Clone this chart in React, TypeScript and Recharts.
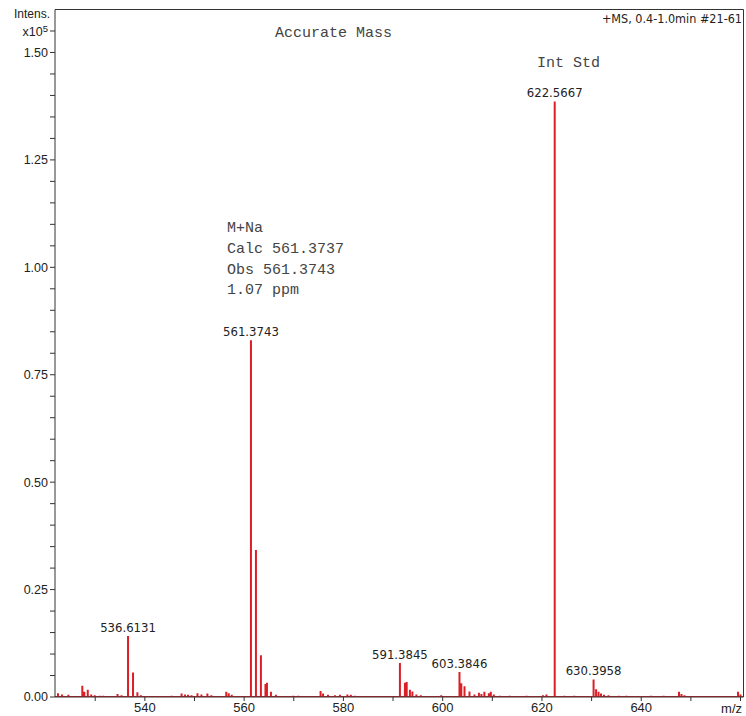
import React from 'react';
import { ComposedChart, Line, Scatter, XAxis, YAxis, ReferenceLine } from 'recharts';

// stick spectrum, m/z and intensity (x10^5)
const peakMz = [
  522.5, 523.3, 524.6, 527.4, 527.8, 528.5, 529.2, 529.9, 530.9, 531.6,
  534.5, 535.3, 536.6131, 537.62, 538.5, 539.2, 545.4, 547.4, 548.1, 548.7,
  549.4, 550.6, 551.4, 552.6, 553.4, 556.4, 556.9, 557.5, 561.3743, 562.38,
  563.38, 564.3, 564.6, 565.4, 566.4, 569.9, 570.9, 575.4, 575.9, 576.9,
  578.3, 579.3, 580.8, 581.5, 582.3, 591.3845, 592.39, 592.75, 593.4, 593.9,
  594.7, 595.6, 599.7, 603.3846, 603.75, 604.4, 605.4, 606.4, 607.3, 607.8,
  608.4, 609.3, 609.7, 610.3, 611.5, 613.5, 616.9, 620.2, 620.9, 622.5667,
  624.5, 626.5, 630.3958, 630.9, 631.4, 631.9, 632.5, 633.4, 635.5, 637.0,
  642.0, 644.5, 647.6, 648.1, 648.7, 652.0, 659.5, 660.0,
];
const peakInt = [
  0.009, 0.006, 0.005, 0.026, 0.012, 0.017, 0.006, 0.004, 0.003, 0.003,
  0.007, 0.004, 0.142, 0.057, 0.011, 0.004, 0.003, 0.008, 0.006, 0.005,
  0.004, 0.009, 0.006, 0.008, 0.004, 0.012, 0.009, 0.005, 0.830, 0.342,
  0.097, 0.030, 0.033, 0.012, 0.005, 0.003, 0.003, 0.014, 0.008, 0.005,
  0.004, 0.005, 0.006, 0.005, 0.003, 0.079, 0.033, 0.035, 0.017, 0.013,
  0.006, 0.004, 0.004, 0.058, 0.032, 0.025, 0.013, 0.006, 0.010, 0.007,
  0.012, 0.009, 0.012, 0.006, 0.003, 0.003, 0.003, 0.004, 0.006, 1.386,
  0.003, 0.003, 0.041, 0.018, 0.012, 0.008, 0.005, 0.004, 0.003, 0.003,
  0.003, 0.003, 0.012, 0.007, 0.004, 0.002, 0.012, 0.006,
];

const labelMz = [536.6131, 561.3743, 591.3845, 603.3846, 622.5667, 630.3958];
const labelInt = [0.142, 0.830, 0.079, 0.058, 1.386, 0.041];
const labelText = ['536.6131', '561.3743', '591.3845', '603.3846', '622.5667', '630.3958'];

const xDomain = [521.9, 660.6];
const xTicks = [530, 540, 550, 560, 570, 580, 590, 600, 610, 620, 630, 640, 650, 660];
const xLabelTicks = [540, 560, 580, 600, 620, 640];
const yTicks = [
  0, 0.05, 0.1, 0.15, 0.2, 0.25, 0.3, 0.35, 0.4, 0.45, 0.5, 0.55, 0.6, 0.65, 0.7, 0.75,
  0.8, 0.85, 0.9, 0.95, 1.0, 1.05, 1.1, 1.15, 1.2, 1.25, 1.3, 1.35, 1.4, 1.45, 1.5, 1.55,
];
const yLabelTicks = [0, 0.25, 0.5, 0.75, 1.0, 1.25, 1.5];

const sticks = [
  { mz: xDomain[0], i: 0 },
  ...peakMz.flatMap((mz, k) => [
    { mz, i: 0 },
    { mz, i: peakInt[k] },
    { mz, i: 0 },
  ]),
  { mz: xDomain[1], i: 0 },
];
const labels = labelMz.map((mz, k) => ({ mz, i: labelInt[k], label: labelText[k] }));

const RED = '#dc1f26';
const AXIS = '#333';
const sans = "'Liberation Sans', Arial, sans-serif";
const cond = "'DejaVu Sans Condensed', 'DejaVu Sans', sans-serif";
const mono = "'Liberation Mono', 'Courier New', monospace";

const XTick = (props: any) => {
  const { x, y, payload } = props;
  if (!xLabelTicks.includes(payload.value)) return <g />;
  return (
    <text x={x} y={y} dy="0.71em" textAnchor="middle" fontSize={13} fontFamily={sans} fill="#222">
      {payload.value}
    </text>
  );
};

const YTick = (props: any) => {
  const { x, y, payload } = props;
  const v = Math.round(payload.value * 100) / 100;
  if (v === 1.55) {
    return (
      <text x={x} y={y} dy="0.4em" textAnchor="end" fontSize={12.5} fontFamily={sans} fill="#222">
        <tspan>x10</tspan>
        <tspan dy={-4} fontSize={9.5}>5</tspan>
      </text>
    );
  }
  if (!yLabelTicks.includes(v)) return <g />;
  return (
    <text x={x} y={y} dy="0.35em" textAnchor="end" fontSize={12.5} fontFamily={sans} fill="#222">
      {v.toFixed(2)}
    </text>
  );
};

const PeakLabel = (props: any) => {
  const { cx, cy, payload } = props;
  return (
    <text x={cx} y={cy - 4} textAnchor="middle" fontSize={13} fontFamily={cond} fill="#222">
      {payload.label}
    </text>
  );
};

export default function App() {
  return (
    <div style={{ position: 'absolute', left: 0, top: 0, width: 746, height: 716, background: '#fff' }}>
      <ComposedChart width={746} height={716} data={sticks} margin={{ top: 9.5, right: 2.5, bottom: 0, left: 0 }}>
        <XAxis
          dataKey="mz"
          type="number"
          domain={xDomain}
          ticks={xTicks}
          allowDataOverflow
          height={19}
          tickSize={4}
          tickMargin={2}
          tick={<XTick />}
          stroke={AXIS}
          interval={0}
        />
        <YAxis
          type="number"
          domain={[0, 1.6]}
          ticks={yTicks}
          allowDataOverflow
          width={55}
          tickSize={5}
          tickMargin={2}
          tick={<YTick />}
          stroke={AXIS}
          interval={0}
        />
        <ReferenceLine y={1.6} stroke={AXIS} strokeWidth={1} />
        <ReferenceLine x={xDomain[1]} stroke={AXIS} strokeWidth={1} />
        <Line
          dataKey="i"
          type="linear"
          stroke={RED}
          strokeWidth={2}
          dot={false}
          activeDot={false}
          isAnimationActive={false}
        />
        <Scatter data={labels} dataKey="i" shape={<PeakLabel />} isAnimationActive={false} />
        <text x={50} y={18} textAnchor="end" fontSize={12} fontFamily={sans} fill="#222">Intens.</text>
        <text x={742} y={23} textAnchor="end" fontSize={12.5} fontFamily={cond} fill="#222">+MS, 0.4-1.0min #21-61</text>
        <text x={742} y={713} textAnchor="end" fontSize={13} fontFamily={sans} fill="#222">m/z</text>
        <text x={275} y={37} fontSize={15} fontFamily={mono} fill="#444">Accurate Mass</text>
        <text x={537} y={67} fontSize={15} fontFamily={mono} fill="#444">Int Std</text>
        <text x={227} y={232} fontSize={15} fontFamily={mono} fill="#444">M+Na</text>
        <text x={227} y={253} fontSize={15} fontFamily={mono} fill="#444">Calc 561.3737</text>
        <text x={227} y={274} fontSize={15} fontFamily={mono} fill="#444">Obs 561.3743</text>
        <text x={227} y={294} fontSize={15} fontFamily={mono} fill="#444">1.07 ppm</text>
      </ComposedChart>
    </div>
  );
}
